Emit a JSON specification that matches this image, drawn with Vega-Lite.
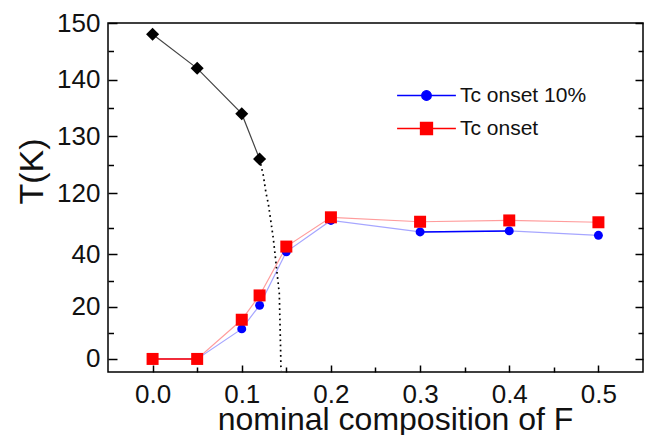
{
  "$schema": "https://vega.github.io/schema/vega-lite/v6.json",
  "autosize": {"type": "none"},
  "width": 535,
  "height": 349,
  "padding": {"left": 108, "top": 23, "right": 2, "bottom": 63},
  "background": "white",
  "config": {
    "view": {"stroke": "black", "strokeWidth": 1.5},
    "font": "Liberation Sans",
    "axis": {
      "domainColor": "black", "domainWidth": 1.5, "tickColor": "black", "tickWidth": 1.5,
      "labelFont": "Liberation Sans", "labelFontSize": 26, "labelColor": "#111",
      "titleFont": "Liberation Sans", "titleFontSize": 34, "titleFontWeight": "normal", "titleColor": "#111",
      "grid": false
    }
  },
  "datasets": {
    "tc": [
      {"x": 0, "series": "Tc onset 10%", "T": 0},
      {"x": 0.05, "series": "Tc onset 10%", "T": 0},
      {"x": 0.1, "series": "Tc onset 10%", "T": 11.5},
      {"x": 0.12, "series": "Tc onset 10%", "T": 20.5},
      {"x": 0.15, "series": "Tc onset 10%", "T": 41},
      {"x": 0.2, "series": "Tc onset 10%", "T": 53},
      {"x": 0.3, "series": "Tc onset 10%", "T": 48.6},
      {"x": 0.4, "series": "Tc onset 10%", "T": 49},
      {"x": 0.5, "series": "Tc onset 10%", "T": 47.3},
      {"x": 0, "series": "Tc onset", "T": 0},
      {"x": 0.05, "series": "Tc onset", "T": 0},
      {"x": 0.1, "series": "Tc onset", "T": 15},
      {"x": 0.12, "series": "Tc onset", "T": 24.3},
      {"x": 0.15, "series": "Tc onset", "T": 43},
      {"x": 0.2, "series": "Tc onset", "T": 54.2},
      {"x": 0.3, "series": "Tc onset", "T": 52.5},
      {"x": 0.4, "series": "Tc onset", "T": 53},
      {"x": 0.5, "series": "Tc onset", "T": 52.3}
    ],
    "tn": [
      {"x": 0, "T": 148},
      {"x": 0.05, "T": 142},
      {"x": 0.1, "T": 134},
      {"x": 0.12, "T": 126}
    ],
    "bnd": [
      {"x": 0.12, "T": 126},
      {"x": 0.1242, "T": 123.1},
      {"x": 0.1272, "T": 120},
      {"x": 0.1272, "T": 63.5},
      {"x": 0.1298, "T": 59.4},
      {"x": 0.1354, "T": 46.1},
      {"x": 0.1421, "T": 25.1},
      {"x": 0.1436, "T": 3.4},
      {"x": 0.144, "T": -4.5}
    ]
  },
  "resolve": {"axis": {"x": "independent", "y": "independent"}},
  "layer": [
    {
      "data": {"name": "tc"},
      "transform": [{"filter": "datum.series === 'Tc onset'"}],
      "mark": {"type": "line", "color": "#ff9c9c", "strokeWidth": 1.2},
      "encoding": {
        "x": {"field": "x", "type": "quantitative", "scale": {"domain": [-0.05, 0.55], "nice": false, "zero": false},
          "axis": {"orient": "bottom", "values": [0, 0.1, 0.2, 0.3, 0.4, 0.5], "format": ".1f", "offset": -7, "tickSize": 7, "domain": false, "labelPadding": 9, "title": "nominal composition of F", "titleFontSize": 32, "titleX": 287, "titleY": 64, "titleBaseline": "alphabetic", "titleAnchor": "middle"}},
        "y": {"field": "T", "type": "quantitative", "scale": {"type": "linear", "domain": [-5, 63.5, 120, 150], "range": [349, 170, 170, 0], "nice": false, "zero": false},
          "axis": {"orient": "left", "values": [0, 20, 40, 120, 130, 140, 150], "offset": -9, "tickSize": 9, "domain": false, "labelPadding": 8, "title": "T(K)", "titleAngle": -90, "titleX": -75, "titleY": 148, "titleBaseline": "alphabetic", "titleAlign": "center"}}
      }
    },
    {
      "data": {"name": "tc"},
      "transform": [{"filter": "datum.series === 'Tc onset 10%'"}],
      "mark": {"type": "line", "color": "#a6a6ff", "strokeWidth": 1.2},
      "encoding": {
        "x": {"field": "x", "type": "quantitative", "scale": {"domain": [-0.05, 0.55], "nice": false, "zero": false},
          "axis": {"orient": "bottom", "values": [0.05, 0.15, 0.25, 0.35, 0.45], "offset": -5, "tickSize": 5, "labels": false, "domain": false, "title": null}},
        "y": {"field": "T", "type": "quantitative", "scale": {"type": "linear", "domain": [-5, 63.5, 120, 150], "range": [349, 170, 170, 0], "nice": false, "zero": false},
          "axis": {"orient": "left", "values": [10, 30, 50, 125, 135, 145], "offset": -5.5, "tickSize": 5.5, "labels": false, "domain": false, "title": null}}
      }
    },
    {
      "data": {"name": "tc"},
      "transform": [{"filter": "datum.series === 'Tc onset' && datum.x <= 0.05"}],
      "mark": {"type": "line", "color": "#ff0000", "strokeWidth": 1.5},
      "encoding": {
        "x": {"field": "x", "type": "quantitative", "scale": {"domain": [-0.05, 0.55], "nice": false, "zero": false}, "axis": null},
        "y": {"field": "T", "type": "quantitative", "scale": {"type": "linear", "domain": [-5, 63.5, 120, 150], "range": [349, 170, 170, 0], "nice": false, "zero": false},
          "axis": {"orient": "right", "values": [0, 20, 40, 120, 130, 140, 150], "offset": -8, "tickSize": 8, "labels": false, "domain": false, "title": null}}
      }
    },
    {
      "data": {"name": "tc"},
      "transform": [{"filter": "datum.series === 'Tc onset 10%' && datum.x >= 0.3 && datum.x <= 0.4"}],
      "mark": {"type": "line", "color": "#0000ff", "strokeWidth": 1.5},
      "encoding": {
        "x": {"field": "x", "type": "quantitative", "scale": {"domain": [-0.05, 0.55], "nice": false, "zero": false}, "axis": null},
        "y": {"field": "T", "type": "quantitative", "scale": {"type": "linear", "domain": [-5, 63.5, 120, 150], "range": [349, 170, 170, 0], "nice": false, "zero": false},
          "axis": {"orient": "right", "values": [10, 30, 50, 125, 135, 145], "offset": -5, "tickSize": 5, "labels": false, "domain": false, "title": null}}
      }
    },
    {
      "data": {"name": "tc"},
      "mark": {"type": "point", "filled": true, "size": 144, "opacity": 0},
      "encoding": {
        "x": {"field": "x", "type": "quantitative", "axis": null},
        "y": {"field": "T", "type": "quantitative", "axis": null},
        "fill": {"field": "series", "type": "nominal",
          "scale": {"domain": ["Tc onset 10%", "Tc onset"], "range": ["#0000ff", "#ff0000"]},
          "legend": {"title": null, "orient": "none", "legendX": 308, "legendY": 62, "padding": 0,
            "symbolSize": 144, "symbolStrokeWidth": 1.3, "symbolOpacity": 1, "labelOffset": 23, "rowPadding": 11,
            "labelFont": "Liberation Sans", "labelFontSize": 21, "labelColor": "#111"}},
        "stroke": {"field": "series", "type": "nominal",
          "scale": {"domain": ["Tc onset 10%", "Tc onset"], "range": ["#0000ff", "#ff0000"]},
          "legend": {"title": null, "orient": "none", "legendX": 308, "legendY": 62, "padding": 0,
            "symbolSize": 144, "symbolStrokeWidth": 1.3, "symbolOpacity": 1, "labelOffset": 23, "rowPadding": 11,
            "labelFont": "Liberation Sans", "labelFontSize": 21, "labelColor": "#111"}},
        "shape": {"field": "series", "type": "nominal",
          "scale": {"domain": ["Tc onset 10%", "Tc onset"], "range": ["M-4.9,0H-0.8M0.8,0H4.9M-0.8,0A0.8,0.8,0,1,1,0.8,0A0.8,0.8,0,1,1,-0.8,0Z", "M-4.9,0H-1M1,0H4.9M-1,-1H1V1H-1Z"]},
          "legend": {"title": null, "orient": "none", "legendX": 308, "legendY": 62, "padding": 0,
            "symbolSize": 144, "symbolStrokeWidth": 1.3, "symbolOpacity": 1, "labelOffset": 23, "rowPadding": 11,
            "labelFont": "Liberation Sans", "labelFontSize": 21, "labelColor": "#111"}}
      }
    },
    {
      "data": {"name": "tc"},
      "transform": [{"filter": "datum.series === 'Tc onset 10%'"}],
      "mark": {"type": "point", "shape": "circle", "filled": true, "size": 80, "opacity": 1, "color": "#0000ff"},
      "encoding": {
        "x": {"field": "x", "type": "quantitative", "axis": null},
        "y": {"field": "T", "type": "quantitative", "axis": null}
      }
    },
    {
      "data": {"name": "tc"},
      "transform": [{"filter": "datum.series === 'Tc onset'"}],
      "mark": {"type": "point", "shape": "square", "filled": true, "size": 144, "opacity": 1, "color": "#ff0000"},
      "encoding": {
        "x": {"field": "x", "type": "quantitative", "axis": null},
        "y": {"field": "T", "type": "quantitative", "axis": null}
      }
    },
    {
      "data": {"name": "tn"},
      "mark": {"type": "line", "color": "#444", "strokeWidth": 1.2},
      "encoding": {
        "x": {"field": "x", "type": "quantitative", "axis": null},
        "y": {"field": "T", "type": "quantitative", "axis": null}
      }
    },
    {
      "data": {"name": "tn"},
      "mark": {"type": "point", "shape": "diamond", "filled": true, "size": 170, "color": "black", "opacity": 1},
      "encoding": {
        "x": {"field": "x", "type": "quantitative", "axis": null},
        "y": {"field": "T", "type": "quantitative", "axis": null}
      }
    },
    {
      "data": {"name": "bnd"},
      "mark": {"type": "line", "color": "black", "strokeWidth": 1.7, "strokeDash": [1.7, 3.5]},
      "encoding": {
        "x": {"field": "x", "type": "quantitative", "axis": null},
        "y": {"field": "T", "type": "quantitative", "axis": null}
      }
    },
    {
      "mark": {"type": "text", "text": "=", "fontSize": 22, "angle": -25, "align": "center", "baseline": "middle", "color": "#222", "font": "Liberation Sans"},
      "encoding": {
        "x": {"datum": -0.05, "type": "quantitative", "axis": null},
        "y": {"datum": 120, "type": "quantitative", "axis": null}
      }
    }
  ]
}
